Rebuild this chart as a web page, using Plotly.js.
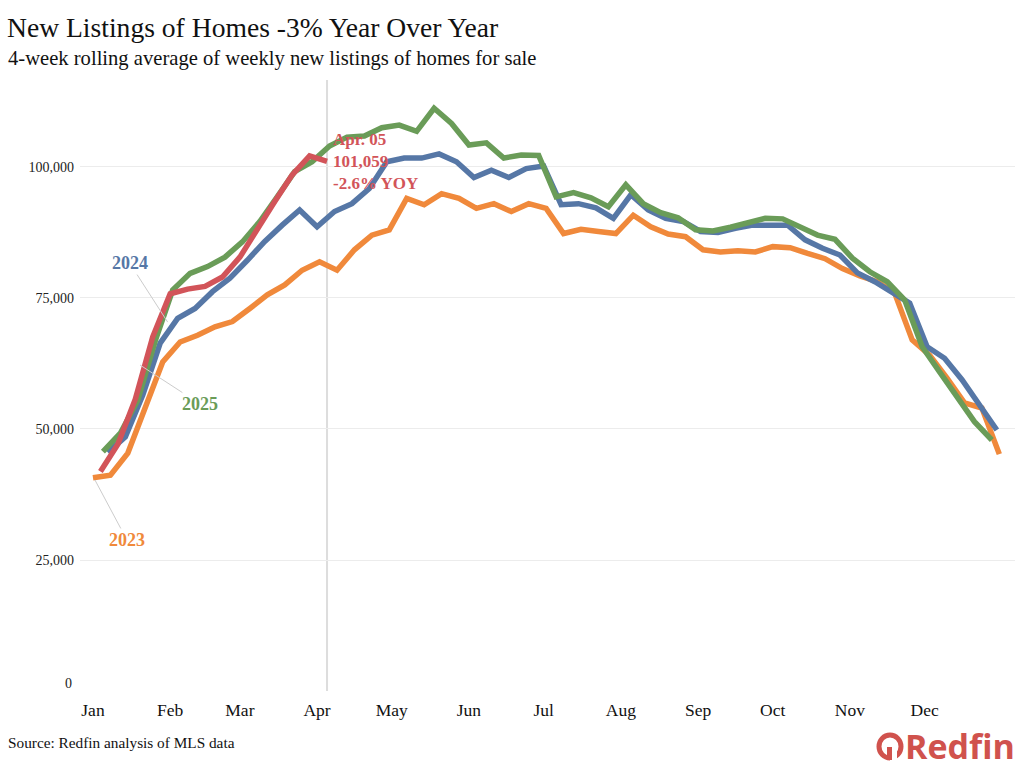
<!DOCTYPE html>
<html>
<head>
<meta charset="utf-8">
<script src="https://cdn.plot.ly/plotly-3.0.1.min.js"></script>
<style>html,body{margin:0;padding:0;background:#fff;}#chart{width:1024px;height:769px;}</style>
</head>
<body>
<div id="chart"></div>
<script>
// ---- Data (weekly 4-week rolling average of new listings), x mapped onto a common calendar year ----
const monthTicks = ['2025-01-01','2025-02-01','2025-03-01','2025-04-01','2025-05-01','2025-06-01','2025-07-01','2025-08-01','2025-09-01','2025-10-01','2025-11-01','2025-12-01'];
const monthLabels = ['Jan','Feb','Mar','Apr','May','Jun','Jul','Aug','Sep','Oct','Nov','Dec'];

const start2023 = '2025-01-01', count2023 = 53;
const values2023 = [40700,41200,45400,54300,62800,66600,67900,69500,70500,73000,75600,77500,80300,81900,80300,84200,87000,88000,94000,92800,94900,94000,92100,93000,91500,93000,92100,87300,88100,87700,87300,90800,88600,87200,86700,84200,83800,84000,83800,84800,84600,83500,82500,80600,79200,78100,75900,67000,64100,59700,55000,54000,45200];

const start2024 = '2025-01-07', count2024 = 52;
const values2024 = [45500,48500,56500,66400,71100,73000,76200,78800,82200,85800,88900,91800,88600,91500,93000,95900,101000,101700,101700,102500,101000,98000,99400,98000,99700,100200,92800,93000,92200,90200,94700,91800,90200,89600,87700,87500,88300,88900,88900,88900,86100,84500,83200,79800,78100,76200,74000,65700,63500,59400,54600,49800];

const startGreen = '2025-01-05', countGreen = 52;
const valuesGreen = [45700,49200,55500,66800,76500,79700,81000,82800,85700,89600,94300,99100,101000,104000,105700,105900,107500,108000,106800,111200,108300,104200,104600,101700,102300,102200,94300,95100,94100,92400,96600,93000,91300,90300,88000,87800,88500,89400,90200,90100,88600,87000,86200,82600,80000,78100,74600,65700,60900,56200,51400,47900];

const start2025 = '2025-01-04', count2025 = 14;
const values2025 = [41900,47100,55700,67600,75800,76700,77200,79000,82800,88300,93400,98500,102100,101059];

const yTicks = [0,25000,50000,75000,100000];
const yTickText = ['','25,000','50,000','75,000','100,000'];

function weekly(start, n){
  const t0 = Date.parse(start + 'T00:00:00Z');
  const out = [];
  for (let i = 0; i < n; i++) out.push(new Date(t0 + i*7*86400000).toISOString().slice(0,10));
  return out;
}
const x2023 = weekly(start2023, count2023);
const x2024 = weekly(start2024, count2024);
const xGreen = weekly(startGreen, countGreen);
const x2025 = weekly(start2025, count2025);
const lastDate2025 = x2025[x2025.length-1];
const lastVal2025 = values2025[values2025.length-1];

const C_OR = '#F0893B', C_BL = '#5677A6', C_GR = '#6A9C58', C_RD = '#D25459';
const serif = 'Liberation Serif, Times New Roman, serif';

const mk = (x, y, c) => ({x, y, type:'scatter', mode:'lines', line:{color:c, width:5.5}, hoverinfo:'skip', showlegend:false});
const data = [mk(x2023, values2023, C_OR), mk(x2024, values2024, C_BL), mk(xGreen, valuesGreen, C_GR), mk(x2025, values2025, C_RD)];

// paper-coordinate helpers for logo placement (plot area: x 80..1015, y 80..691)
const px = v => (v - 80) / 935;
const py = v => (691 - v) / 611;

const layout = {
  width:1024, height:769,
  margin:{l:80, r:9, t:80, b:78},
  paper_bgcolor:'#fff', plot_bgcolor:'#fff',
  font:{family:serif, color:'#111'},
  title:{text:'New Listings of Homes -3% Year Over Year', font:{family:serif, size:27.6, color:'#111'}, x:7/1024, xanchor:'left', xref:'container', y:1-27/769, yanchor:'middle', yref:'container'},
  xaxis:{type:'date', range:['2024-12-26T19:00:00','2026-01-06T07:00:00'], tickvals:monthTicks, ticktext:monthLabels, tickfont:{family:serif, size:17.5, color:'#111'}, showgrid:false, zeroline:false, showline:false, ticks:'', ticklabelstandoff:6, fixedrange:true},
  yaxis:{range:[0,116600], tickvals:yTicks, ticktext:yTickText, tickfont:{family:serif, size:14, color:'#222'}, showgrid:true, gridcolor:'#ececec', gridwidth:1, zeroline:false, showline:false, ticks:'', ticklabelstandoff:5, fixedrange:true},
  shapes:[
    {type:'line', xref:'x', yref:'paper', x0:lastDate2025, x1:lastDate2025, y0:0, y1:1, line:{color:'#dddddd', width:2}, layer:'below'},
    {type:'circle', xref:'paper', yref:'paper', x0:px(879), x1:px(901), y0:py(758), y1:py(735), line:{color:'#D0524D', width:5}},
    {type:'rect', xref:'paper', yref:'paper', x0:px(890), x1:px(897), y0:py(763), y1:py(750), line:{width:0}, fillcolor:'#ffffff'},
    {type:'line', xref:'paper', yref:'paper', x0:px(889.5), x1:px(889.5), y0:py(747), y1:py(760), line:{color:'#D0524D', width:5}}
  ],
  annotations:[
    {xref:'paper', yref:'paper', x:-74/935, y:1+(80-58)/611, xanchor:'left', yanchor:'middle', showarrow:false, text:'4-week rolling average of weekly new listings of homes for sale', font:{family:serif, size:20.6, color:'#111'}},
    {xref:'paper', yref:'paper', x:-74/935, y:(691-742)/611, xanchor:'left', yanchor:'middle', showarrow:false, text:'Source: Redfin analysis of MLS data', font:{family:serif, size:15.3, color:'#111'}},
    {xref:'paper', yref:'paper', x:-6/935, y:(691-683)/611, xanchor:'right', yanchor:'middle', showarrow:false, text:'0', font:{family:serif, size:14, color:'#222'}},
    {xref:'paper', yref:'paper', x:px(903), y:py(746), xanchor:'left', yanchor:'middle', showarrow:false, text:'<b>Redfin</b>', font:{family:'Open Sans, Roboto, sans-serif', size:34, color:'#D0524D'}},
    {x:lastDate2025, y:lastVal2025, xanchor:'left', yanchor:'middle', align:'left', xshift:4, showarrow:false, text:'<b>Apr. 05<br>101,059<br>-2.6% YOY</b>', font:{family:serif, size:17, color:C_RD}},
    {x:'2025-01-31', y:70400, ax:-38, ay:-59, showarrow:true, arrowhead:0, arrowwidth:1, arrowcolor:'#cccccc', standoff:0, text:'<b>2024</b>', font:{family:serif, size:18, color:C_BL}},
    {x:'2025-01-19T22:00:00', y:62200, ax:60, ay:39, showarrow:true, arrowhead:0, arrowwidth:1, arrowcolor:'#cccccc', standoff:0, text:'<b>2025</b>', font:{family:serif, size:18, color:C_GR}},
    {x:'2025-01-01T19:00:00', y:40270, ax:32, ay:60, showarrow:true, arrowhead:0, arrowwidth:1, arrowcolor:'#cccccc', standoff:0, text:'<b>2023</b>', font:{family:serif, size:18, color:C_OR}}
  ]
};

Plotly.newPlot('chart', data, layout, {staticPlot:true, displayModeBar:false});
</script>
</body>
</html>
